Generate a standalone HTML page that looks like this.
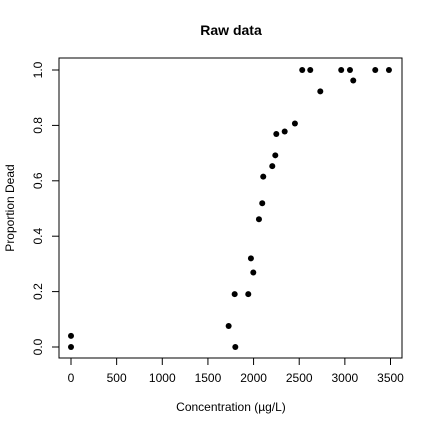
<!DOCTYPE html>
<html><head><meta charset="utf-8"><style>
body{margin:0;background:#fff;}
svg{display:block;font-family:"Liberation Sans",Arial,sans-serif;}
</style></head><body>
<svg id="chart" width="432" height="432" viewBox="0 0 432 432">
<rect width="432" height="432" fill="#fff"/>
<text x="231" y="35" text-anchor="middle" font-size="14" font-weight="bold">Raw data</text>
<rect x="59" y="58" width="343" height="300" fill="none" stroke="#000" stroke-width="1"/>
<text x="231" y="411" text-anchor="middle" font-size="12">Concentration (µg/L)</text>
<text transform="translate(14,208) rotate(-90)" text-anchor="middle" font-size="12">Proportion Dead</text>
<g id="xaxis"></g>
<g id="yaxis"></g>
<g id="points"></g>
</svg>
<script>
const xTicks=[0,500,1000,1500,2000,2500,3000,3500];
const yTicks=[0,0.2,0.4,0.6,0.8,1.0];
const yTickLabels=["0.0","0.2","0.4","0.6","0.8","1.0"];
const conc=[0,0,1727,1800,1793,1942,1971,1997,2059,2095,2106,2205,2238,2249,2341,2453,2533,2621,2731,2960,3056,3092,3333,3483];
const dead=[0.04,0,0.076,0,0.191,0.191,0.320,0.269,0.461,0.519,0.615,0.653,0.692,0.769,0.778,0.807,1,1,0.923,1,1,0.962,1,1];
const NS="http://www.w3.org/2000/svg";
function sx(v){return 71+v*(390.5-71)/3500;}
function sy(v){return 347-v*277;}
function mk(t,a,p){const e=document.createElementNS(NS,t);for(const k in a)e.setAttribute(k,a[k]);p.appendChild(e);return e;}
const xa=document.getElementById('xaxis'),ya=document.getElementById('yaxis'),pg=document.getElementById('points');
mk('line',{x1:sx(0),x2:sx(3500),y1:358,y2:358,stroke:'#000'},xa);
xTicks.forEach(t=>{
  const l=mk('line',{x1:sx(t),x2:sx(t),y1:358,y2:365,stroke:'#000'},xa);
  
  
  const tx=mk('text',{x:sx(t),y:382,'text-anchor':'middle','font-size':12},xa);tx.textContent=t;
  
  
});
mk('line',{x1:59,x2:59,y1:sy(0),y2:sy(1),stroke:'#000'},ya);
yTicks.forEach((t,i)=>{
  const l=mk('line',{x1:52,x2:59,y1:sy(t),y2:sy(t),stroke:'#000'},ya);
  
  
  const tx=mk('text',{transform:`translate(42,${sy(t)}) rotate(-90)`,'text-anchor':'middle','font-size':12},ya);tx.textContent=yTickLabels[i];
  
  
});
conc.forEach((c,i)=>{
  const p=mk('circle',{cx:sx(c),cy:sy(dead[i]),r:3,fill:'#000'},pg);
  
  
});
</script>
</body></html>
